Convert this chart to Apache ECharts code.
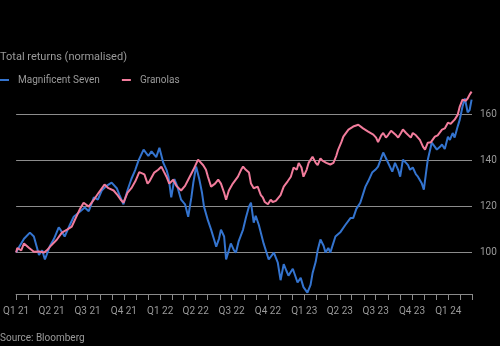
<!DOCTYPE html>
<html>
<head>
<meta charset="utf-8">
<script src="https://cdn.jsdelivr.net/npm/echarts@6/dist/echarts.min.js"></script>
<style>
html,body{margin:0;padding:0;background:#000;}
#chart{width:500px;height:346px;}
</style>
</head>
<body>
<div id="chart"></div>
<script>
const titleText = 'Total returns (normalised)';
const sourceText = 'Source: Bloomberg';
const seriesNames = ['Magnificent Seven', 'Granolas'];

const m7Dates = ['2021-01-01','2021-01-09','2021-01-21','2021-02-05','2021-02-15','2021-02-28','2021-03-08','2021-03-15','2021-03-28','2021-04-07','2021-04-19','2021-04-27','2021-05-04','2021-05-17','2021-05-27','2021-06-09','2021-06-24','2021-07-04','2021-07-17','2021-07-27','2021-08-06','2021-08-18','2021-08-31','2021-09-13','2021-09-20','2021-09-30','2021-10-10','2021-10-20','2021-10-30','2021-11-07','2021-11-20','2021-12-02','2021-12-10','2021-12-22','2021-12-30','2022-01-09','2022-01-17','2022-01-22','2022-01-29','2022-02-06','2022-02-13','2022-02-23','2022-03-05','2022-03-13','2022-03-21','2022-03-26','2022-04-02','2022-04-10','2022-04-17','2022-04-22','2022-05-02','2022-05-10','2022-05-17','2022-05-23','2022-05-30','2022-06-04','2022-06-12','2022-06-17','2022-06-24','2022-06-29','2022-07-07','2022-07-12','2022-07-19','2022-07-30','2022-08-06','2022-08-14','2022-08-19','2022-08-26','2022-08-31','2022-09-08','2022-09-20','2022-10-03','2022-10-16','2022-10-26','2022-11-02','2022-11-10','2022-11-17','2022-11-22','2022-12-03','2022-12-15','2022-12-23','2022-12-30','2023-01-09','2023-01-17','2023-01-22','2023-01-30','2023-02-04','2023-02-11','2023-02-19','2023-02-24','2023-03-03','2023-03-08','2023-03-21','2023-04-03','2023-04-15','2023-04-28','2023-05-05','2023-05-13','2023-05-23','2023-06-05','2023-06-12','2023-06-22','2023-06-30','2023-07-07','2023-07-20','2023-07-27','2023-08-01','2023-08-12','2023-08-19','2023-08-27','2023-09-01','2023-09-08','2023-09-16','2023-09-21','2023-09-26','2023-10-03','2023-10-11','2023-10-16','2023-10-26','2023-10-31','2023-11-05','2023-11-10','2023-11-20','2023-11-28','2023-12-03','2023-12-11','2023-12-16','2023-12-23','2023-12-31','2024-01-05','2024-01-12','2024-01-17','2024-01-25','2024-01-30','2024-02-06','2024-02-12','2024-02-17','2024-02-19','2024-02-24','2024-02-29'];
const m7Values = [100,102.5,106,108.7,107,99,101,97,103,106,111,109,107,112,115.6,117.4,119.6,118,124,123,127,129,130.4,128,125,121,127,132,136,140,144.8,142,144,141.5,145.6,139,136,133,124,132,129,123,121,115.6,124,130.4,137.4,132,126,120,114,110,106,102.6,106,110,107,97,101,104,101,100,105,110,115,120,121.7,113,116,112,104,97,100,95.6,88,95,92,90,93,87,89,85,82.6,86,91,96,101,105.7,103,100,102,100,107,109,112,115,115,119,121.7,128.7,131,134.8,136,137.4,143.5,141,140.4,135.2,139,136,133,140.4,139,138,136,137,134,133,130,127.4,134,140.4,147.8,146,144.8,146,147,145,150.4,149,152,150,155,157.8,163.5,167,166.5,161,162,166.5];

const granDates = ['2021-01-01','2021-01-04','2021-01-14','2021-01-21','2021-02-03','2021-02-15','2021-02-28','2021-03-13','2021-03-20','2021-03-28','2021-04-14','2021-04-27','2021-05-10','2021-05-22','2021-05-30','2021-06-11','2021-06-21','2021-07-04','2021-07-17','2021-07-29','2021-08-13','2021-08-23','2021-09-05','2021-09-15','2021-09-23','2021-09-30','2021-10-10','2021-10-20','2021-10-30','2021-11-09','2021-11-22','2021-11-30','2021-12-05','2021-12-17','2021-12-27','2022-01-04','2022-01-11','2022-01-17','2022-01-24','2022-02-03','2022-02-11','2022-02-23','2022-03-05','2022-03-13','2022-03-26','2022-04-07','2022-04-20','2022-04-27','2022-05-02','2022-05-10','2022-05-20','2022-05-28','2022-06-04','2022-06-12','2022-06-17','2022-06-24','2022-07-04','2022-07-17','2022-07-25','2022-07-30','2022-08-06','2022-08-14','2022-08-19','2022-08-26','2022-09-05','2022-09-13','2022-09-18','2022-09-23','2022-10-01','2022-10-08','2022-10-13','2022-10-21','2022-10-26','2022-11-02','2022-11-10','2022-11-20','2022-11-28','2022-12-05','2022-12-13','2022-12-18','2022-12-25','2022-12-30','2023-01-07','2023-01-12','2023-01-22','2023-01-30','2023-02-04','2023-02-11','2023-02-16','2023-02-26','2023-03-08','2023-03-16','2023-03-23','2023-03-28','2023-04-05','2023-04-10','2023-04-23','2023-05-05','2023-05-18','2023-05-30','2023-06-12','2023-06-25','2023-07-02','2023-07-07','2023-07-15','2023-07-20','2023-07-27','2023-08-01','2023-08-09','2023-08-14','2023-08-22','2023-08-27','2023-09-03','2023-09-08','2023-09-16','2023-09-21','2023-09-28','2023-10-03','2023-10-11','2023-10-16','2023-10-21','2023-10-29','2023-11-03','2023-11-10','2023-11-18','2023-11-28','2023-12-05','2023-12-16','2023-12-23','2023-12-31','2024-01-07','2024-01-17','2024-01-25','2024-01-30','2024-02-06','2024-02-14','2024-02-19','2024-02-24','2024-02-29'];
const granValues = [100,102,101,104,102,100.4,100.5,100,101,102.6,105.6,108.7,110,111.3,114.3,118.7,121.7,120,123,126,129.6,128,127,125,123,121.7,126,128,131,135,134,130,131,134.8,136,137.4,135,133,130,131.7,129,127,129,131.7,136,140.4,138,136,133,128.7,130,131.7,130,126,123,127,130,133,136,137.4,136,134.8,130,128,128.7,125,124,122,121,123,122,122.5,122,125,128.7,131,133,137,136,139,137,133,136,139,141.7,139,138,141,140,139,138.3,139,142,144.8,148,150.4,153.5,154.8,155.6,154,152.6,151.3,150,148,151,152,150,151,153,152.6,151,150,152,153.5,152,151.5,150,152,151,150,149,146,144.8,147.8,148,150.4,151,153.5,154,156.5,156,157.8,160,163.5,166.5,166,167,168.7,170];

const yTickValues = [100, 120, 140, 160];
const quarterTicks = ['2021-01-01','2021-04-01','2021-07-01','2021-10-01','2022-01-01','2022-04-01','2022-07-01','2022-10-01','2023-01-01','2023-04-01','2023-07-01','2023-10-01','2024-01-01'];
const quarterLabels = ['Q1 21','Q2 21','Q3 21','Q4 21','Q1 22','Q2 22','Q3 22','Q4 22','Q1 23','Q2 23','Q3 23','Q4 23','Q1 24'];

const xMin = '2021-01-01';
const xMax = '2024-03-01';

function toTime(s){ const p = s.split('-').map(Number); return Date.UTC(p[0], p[1]-1, p[2]); }
const monthTicks = [];
for (let y = 2021; y <= 2024; y++) {
  for (let m = 0; m < 12; m++) {
    const t = Date.UTC(y, m, 1);
    if (t <= toTime(xMax)) monthTicks.push(t);
  }
}
const quarterTimes = quarterTicks.map(toTime);

const blue = '#3474cf';
const pink = '#f27c9c';
const textColor = '#9a9a9a';
const font = 'Roboto';

const chart = echarts.init(document.getElementById('chart'), null, {renderer: 'canvas'});
chart.setOption({
  backgroundColor: '#000',
  animation: false,
  textStyle: {fontFamily: font},
  title: [
    {text: titleText, left: 0, top: 52, padding: 0,
     textStyle: {color: textColor, fontSize: 11, fontWeight: 'normal', fontFamily: font}},
    {text: sourceText, left: 0, top: 333, padding: 0,
     textStyle: {color: textColor, fontSize: 10, fontWeight: 'normal', fontFamily: font}}
  ],
  legend: {
    data: seriesNames,
    left: 0, top: 75, padding: 0,
    icon: 'rect', itemWidth: 9, itemHeight: 2, itemGap: 22,
    textStyle: {color: textColor, fontSize: 10, fontFamily: font, padding: [0,0,0,4]}
  },
  grid: {left: 14, right: 28, top: 87, bottom: 52, containLabel: false},
  xAxis: {
    type: 'value',
    min: toTime(xMin), max: toTime(xMax),
    axisLine: {show: true, lineStyle: {color: '#8a8a8a', width: 1}},
    axisTick: {show: true, customValues: monthTicks, length: 6, lineStyle: {color: '#8a8a8a'}},
    splitLine: {show: false},
    axisLabel: {
      customValues: quarterTimes,
      color: textColor, fontSize: 10, fontFamily: font, margin: 12,
      formatter: function (val) {
        const i = quarterTimes.indexOf(val);
        return i >= 0 ? quarterLabels[i] : '';
      }
    }
  },
  yAxis: {
    type: 'value',
    position: 'right',
    min: 82, max: 172,
    axisLine: {show: false},
    axisTick: {show: false, customValues: yTickValues},
    axisLabel: {customValues: yTickValues, color: textColor, fontSize: 10, fontFamily: font, margin: 8},
    splitLine: {show: true, lineStyle: {color: '#8c8c8c', width: 1}}
  },
  series: [
    {name: seriesNames[0], type: 'line', showSymbol: false, symbol: 'none',
     data: m7Dates.map((d, i) => [toTime(d), m7Values[i]]),
     lineStyle: {color: blue, width: 2}, itemStyle: {color: blue}},
    {name: seriesNames[1], type: 'line', showSymbol: false, symbol: 'none',
     data: granDates.map((d, i) => [toTime(d), granValues[i]]),
     lineStyle: {color: pink, width: 2}, itemStyle: {color: pink}}
  ]
});
</script>
</body>
</html>
